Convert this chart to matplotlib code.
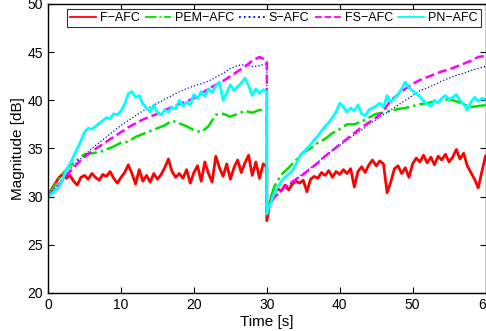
from matplotlib import pyplot as plt
import numpy as np

plt.rcParams['font.family'] = ['Liberation Sans', 'DejaVu Sans']

# time axes: first half (0-30 s) and second half (30-60 s), the path changes at 30 s
t_fine1 = np.arange(0, 30.01, 0.5)
t_fine2 = np.arange(30, 60.01, 0.5)
t_coarse1 = np.arange(0, 30.01, 1.0)
t_coarse2 = np.arange(30, 60.01, 1.0)

# F-AFC (red), every 0.5 s
f_afc_1 = [30.0, 30.8, 31.4, 32.0, 32.3, 31.9, 32.2, 31.6, 31.2, 32.0,
           32.2, 31.8, 32.4, 32.0, 31.7, 32.3, 32.1, 32.6, 31.9, 31.4,
           32.0, 32.5, 33.3, 32.4, 31.3, 32.8, 31.6, 32.2, 31.5, 32.4,
           31.8, 32.3, 33.0, 33.9, 32.6, 32.0, 32.4, 31.9, 32.8, 31.4,
           32.5, 33.2, 31.6, 33.6, 32.4, 31.5, 34.2, 33.0, 32.1, 33.4,
           31.8, 33.0, 33.8, 32.5, 33.5, 34.3, 32.2, 33.6, 31.9, 33.4,
           33.1]
f_afc_2 = [27.5, 29.6, 30.4, 30.8, 30.6, 31.2, 30.7, 31.3, 31.6, 31.4,
           31.7, 30.5, 31.8, 32.1, 31.9, 32.5, 32.2, 32.7, 32.0, 32.6,
           32.3, 32.8, 32.4, 32.9, 31.0, 32.6, 33.1, 32.5, 33.3, 33.8,
           33.2, 33.7, 33.4, 30.4, 31.5, 32.9, 33.2, 32.4, 33.0, 32.0,
           33.4, 34.0, 33.6, 34.3, 33.5, 34.1, 33.3, 34.2, 33.8, 34.4,
           33.6, 34.1, 34.9, 33.9, 34.5, 33.2, 32.5, 31.8, 30.9, 32.6,
           34.2]

# PN-AFC (cyan), every 0.5 s
pn_afc_1 = [30.0, 30.3, 30.6, 31.0, 31.8, 32.8, 33.4, 34.2, 35.0, 35.8,
            36.7, 37.1, 37.0, 37.3, 37.6, 37.9, 38.2, 38.1, 38.6, 38.5,
            38.9, 39.6, 40.7, 40.9, 40.3, 40.5, 39.6, 39.2, 38.8, 39.5,
            38.7, 38.5, 39.0, 38.8, 39.3, 39.1, 40.0, 39.4, 39.8, 39.5,
            40.6, 40.2, 40.9, 40.4, 41.2, 40.8, 41.5, 41.9, 40.0, 40.8,
            41.6, 41.0, 41.4, 41.8, 42.3, 41.5, 40.5, 41.2, 40.7, 41.1,
            40.9]
pn_afc_2 = [28.2, 29.3, 30.3, 31.0, 31.6, 32.0, 32.3, 32.7, 33.4, 34.2,
            34.6, 35.0, 35.4, 35.9, 36.3, 36.8, 37.3, 37.7, 38.2, 38.8,
            39.7, 39.3, 38.8, 39.2, 38.9, 39.5, 38.6, 38.4, 39.0, 39.2,
            39.4, 39.7, 39.3, 40.5, 39.8, 40.2, 40.6, 41.2, 41.9, 41.3,
            41.0, 40.7, 40.4, 39.9, 39.6, 39.4, 40.0, 39.7, 40.2, 40.5,
            40.1, 40.3, 40.6, 40.0, 39.6, 39.0, 39.8, 40.3, 39.9, 40.2,
            40.1]

# PEM-AFC (green), every 1 s
pem_afc_1 = [30.0, 31.3, 32.4, 33.2, 33.8, 34.4, 34.5, 34.6, 34.9, 35.2,
             35.6, 35.7, 36.2, 36.5, 36.8, 37.1, 37.4, 37.9, 37.6, 37.3,
             36.9, 36.7, 37.3, 38.5, 38.6, 38.3, 38.6, 38.9, 38.7, 39.0,
             38.9]
pem_afc_2 = [28.6, 31.0, 32.3, 33.0, 33.8, 34.6, 35.0, 35.6, 36.0, 36.6,
             37.0, 37.5, 37.5, 37.8, 38.2, 38.6, 38.7, 38.9, 39.1, 39.2,
             39.4, 39.6, 39.7, 39.9, 40.0, 40.1, 39.9, 39.6, 39.3, 39.4,
             39.5]

# S-AFC (blue), every 1 s
s_afc_1 = [30.0, 30.9, 31.9, 32.8, 33.6, 34.3, 35.0, 35.6, 36.2, 36.8,
           37.4, 37.9, 38.4, 38.9, 39.3, 39.7, 40.1, 40.5, 40.9, 41.2,
           41.5, 41.7, 42.0, 42.4, 42.8, 43.3, 43.6, 43.7, 43.5, 43.6,
           43.8]
s_afc_2 = [28.5, 29.8, 30.6, 31.2, 31.8, 32.4, 33.0, 33.6, 34.2, 34.8,
           35.3, 35.9, 36.4, 36.9, 37.5, 38.0, 38.5, 39.0, 39.5, 40.0,
           40.5, 41.0, 41.3, 41.6, 42.0, 42.3, 42.6, 42.8, 43.1, 43.3,
           43.5]

# FS-AFC (magenta), every 1 s
fs_afc_1 = [30.0, 30.8, 31.7, 32.6, 33.4, 34.1, 34.7, 35.2, 35.7, 36.2,
            36.7, 37.2, 37.6, 38.0, 38.3, 38.6, 39.0, 39.3, 39.6, 39.9,
            40.2, 40.7, 41.2, 41.6, 42.0, 42.5, 43.0, 43.5, 44.1, 44.5,
            44.1]
fs_afc_2 = [28.6, 29.9, 30.7, 31.3, 31.8, 32.3, 32.9, 33.5, 34.2, 34.8,
            35.4, 36.0, 36.6, 37.2, 37.7, 38.2, 38.9, 40.0, 40.6, 41.2,
            41.7, 42.1, 42.4, 42.7, 43.0, 43.2, 43.5, 43.8, 44.1, 44.5,
            44.6]

t_fine = np.concatenate([t_fine1, t_fine2])
t_coarse = np.concatenate([t_coarse1, t_coarse2])

fig = plt.figure(figsize=(4.86, 3.31), dpi=100)
ax = fig.add_axes([0.099, 0.115, 0.9, 0.873])

ax.plot(t_fine, f_afc_1 + f_afc_2, color='red', lw=2.0, ls='-', label='F\u2212AFC')
ax.plot(t_coarse, pem_afc_1 + pem_afc_2, color='#00e000', lw=1.8, ls='-.', label='PEM\u2212AFC')
ax.plot(t_coarse, s_afc_1 + s_afc_2, color='blue', lw=0.9, ls=':', label='S\u2212AFC')
ax.plot(t_coarse, fs_afc_1 + fs_afc_2, color='magenta', lw=1.8, ls='--', label='FS\u2212AFC')
ax.plot(t_fine, pn_afc_1 + pn_afc_2, color='cyan', lw=2.0, ls='-', label='PN\u2212AFC')

ax.set_xlim(0, 60)
ax.set_ylim(20, 50)
ax.set_xticks(np.arange(0, 61, 10))
ax.set_yticks(np.arange(20, 51, 5))
ax.tick_params(direction='in', top=True, right=True, length=4, labelsize=10)
for s in ax.spines.values():
    s.set_linewidth(1.0)

ax.set_xlabel('Time [s]', fontsize=11, labelpad=2)
ax.set_ylabel('Magnitude [dB]', fontsize=11, labelpad=2)

leg = ax.legend(loc='upper right', ncol=5, fontsize=9, frameon=True, fancybox=False,
                edgecolor='black', handlelength=2.1, columnspacing=0.4,
                handletextpad=0.3, borderpad=0.25, borderaxespad=0.4)
leg.get_frame().set_linewidth(0.8)
for line in leg.get_lines():
    line.set_linewidth(1.3)

fig.savefig('out.png', dpi=100)
